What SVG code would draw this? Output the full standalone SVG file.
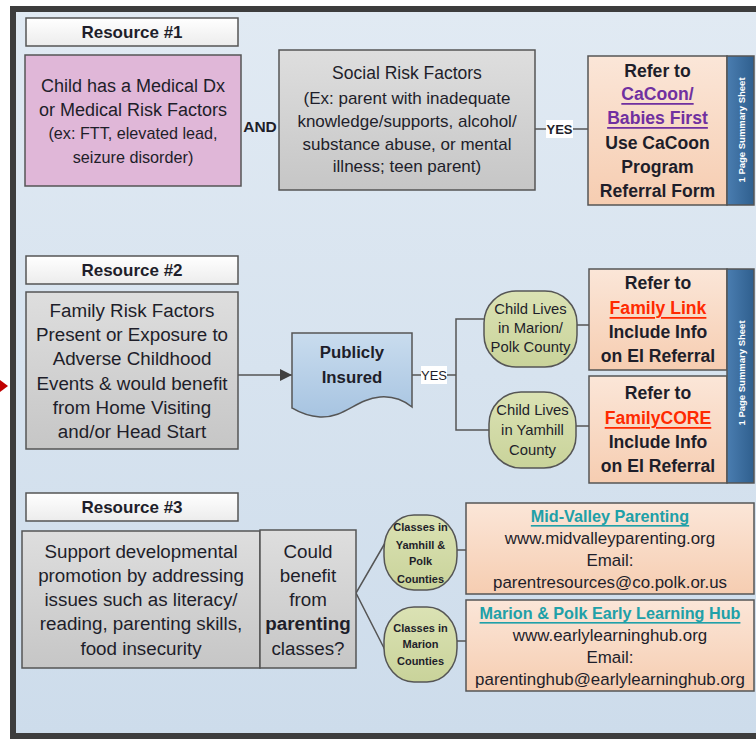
<svg xmlns="http://www.w3.org/2000/svg" width="756" height="740" viewBox="0 0 756 740">
<defs>
<linearGradient id="gFrame" x1="0" y1="0" x2="0" y2="1"><stop offset="0" stop-color="#e1eaf3"/><stop offset="1" stop-color="#cddceb"/></linearGradient>
<linearGradient id="gGray" x1="0" y1="0" x2="0" y2="1"><stop offset="0" stop-color="#dedede"/><stop offset="1" stop-color="#c6c6c6"/></linearGradient>
<linearGradient id="gHead" x1="0" y1="0" x2="0" y2="1"><stop offset="0" stop-color="#ffffff"/><stop offset="1" stop-color="#ececec"/></linearGradient>
<linearGradient id="gOrange" x1="0" y1="0" x2="0" y2="1"><stop offset="0" stop-color="#fbe6d8"/><stop offset="1" stop-color="#f6cdb1"/></linearGradient>
<linearGradient id="gGreen" x1="0" y1="0" x2="0" y2="1"><stop offset="0" stop-color="#dbe2b4"/><stop offset="1" stop-color="#c9d39a"/></linearGradient>
<linearGradient id="gDoc" x1="0" y1="0" x2="0" y2="1"><stop offset="0" stop-color="#c9dcee"/><stop offset="1" stop-color="#a7c4e1"/></linearGradient>
<linearGradient id="gBar" x1="0" y1="0" x2="1" y2="0"><stop offset="0" stop-color="#4a7db0"/><stop offset="1" stop-color="#2f5f8e"/></linearGradient>
<marker id="arr" viewBox="0 0 10 10" refX="10" refY="5" markerWidth="15" markerHeight="12" markerUnits="userSpaceOnUse" orient="auto"><path d="M0,0 L10,5 L0,10 Z" fill="#404040"/></marker>
</defs>
<style>
text{font-family:"Liberation Sans",Arial,sans-serif;fill:#1e1e2a;text-anchor:middle;dominant-baseline:central}
.box{stroke:#555;stroke-width:1.5}
.b{font-weight:bold}
.hdr{font-weight:bold;font-size:17px}
.ln{stroke:#555;stroke-width:1.5;fill:none}
.bar{fill:url(#gBar);stroke:#555;stroke-width:1.5}
.bartxt{fill:#fff;font-weight:bold;font-size:9.5px}
.lbl{fill:#fff}
.ref{font-weight:bold;font-size:17.6px}
.big{font-size:18.8px}
.soc{font-size:17px}
.oval{font-size:14.8px}
.cls{font-weight:bold;font-size:11px}
.info{font-size:16.9px}
.ttl{font-weight:bold;font-size:16.2px;fill:#20a0a8}
</style>

<g id="frame">
<rect x="13" y="9" width="760" height="727" fill="url(#gFrame)" stroke="#3d3d3d" stroke-width="6"/>
<polygon points="0,380 8,386 0,392" fill="#c00000"/>
</g>

<g id="connectors">
<line class="ln" x1="535" y1="129" x2="588" y2="129"/>
<rect class="lbl" x="546" y="120" width="27" height="18"/>
<text class="b" style="font-size:13px" x="559.5" y="129">YES</text>
<line class="ln" x1="238" y1="375" x2="292" y2="375" marker-end="url(#arr)"/>
<line class="ln" x1="412" y1="375" x2="456" y2="375"/>
<polyline class="ln" points="484,319 456,319 456,430 489,430"/>
<rect class="lbl" x="421" y="366" width="26" height="18"/>
<text style="font-size:13px" x="434" y="375">YES</text>
<line class="ln" x1="577" y1="325" x2="589" y2="325"/>
<line class="ln" x1="576" y1="426" x2="589" y2="426"/>
<polyline class="ln" points="385,543 356,593 385,650"/>
<line class="ln" x1="457" y1="550" x2="466" y2="550"/>
<line class="ln" x1="457" y1="641" x2="466" y2="641"/>
</g>

<g id="resource1">
<rect class="box" x="26" y="18" width="212" height="28" fill="url(#gHead)"/>
<text class="hdr" x="132" y="32">Resource #1</text>
</g>
<g id="medical">
<rect class="box" x="25" y="55" width="216" height="131" fill="#e0b7d8"/>
<text style="font-size:18px" x="133" y="86">Child has a Medical Dx</text>
<text style="font-size:18px" x="133" y="110">or Medical Risk Factors</text>
<text style="font-size:16.2px" x="133" y="133">(ex: FTT, elevated lead,</text>
<text style="font-size:16.2px" x="133" y="157">seizure disorder)</text>
</g>
<g id="and-label">
<text class="b" style="font-size:15.5px" x="260" y="126">AND</text>
</g>
<g id="social">
<rect class="box" x="279" y="50" width="256" height="140" fill="url(#gGray)"/>
<text style="font-size:17.5px" x="407" y="73">Social Risk Factors</text>
<text class="soc" x="407" y="98">(Ex: parent with inadequate</text>
<text class="soc" x="407" y="121">knowledge/supports, alcohol/</text>
<text class="soc" x="407" y="144">substance abuse, or mental</text>
<text class="soc" x="407" y="166">illness; teen parent)</text>
</g>
<g id="cacoon">
<rect class="box" x="588" y="56" width="139" height="149" fill="url(#gOrange)"/>
<text class="ref" x="657.5" y="71">Refer to</text>
<text class="ref" x="657.5" y="94" style="fill:#7030a0" text-decoration="underline">CaCoon/</text>
<text class="ref" x="657.5" y="118" style="fill:#7030a0" text-decoration="underline">Babies First</text>
<text class="ref" x="657.5" y="143">Use CaCoon</text>
<text class="ref" x="657.5" y="167">Program</text>
<text class="ref" x="657.5" y="191">Referral Form</text>
<rect class="bar" x="727" y="56" width="27" height="149"/>
<text class="bartxt" transform="translate(741,130) rotate(-90)">1 Page Summary Sheet</text>
</g>

<g id="resource2">
<rect class="box" x="26" y="256" width="212" height="28" fill="url(#gHead)"/>
<text class="hdr" x="132" y="270">Resource #2</text>
</g>
<g id="family">
<rect class="box" x="26" y="292" width="212" height="157" fill="url(#gGray)"/>
<text class="big" x="132" y="310">Family Risk Factors</text>
<text class="big" x="132" y="334">Present or Exposure to</text>
<text class="big" x="132" y="358">Adverse Childhood</text>
<text class="big" x="132" y="383">Events &amp; would benefit</text>
<text class="big" x="132" y="407">from Home Visiting</text>
<text class="big" x="132" y="431">and/or Head Start</text>
</g>
<g id="insured">
<path class="box" d="M292,333 L412,333 L412,407 C402,399 392,396 380,397 C356,399 345,418 320,417 C305,416 297,411 292,408 Z" fill="url(#gDoc)"/>
<text class="b" style="font-size:16.8px" x="352" y="352">Publicly</text>
<text class="b" style="font-size:16.8px" x="352" y="377">Insured</text>
</g>
<g id="marion-polk">
<rect class="box" x="484" y="291" width="93" height="76" rx="32" ry="32" fill="url(#gGreen)"/>
<text class="oval" x="530.5" y="309">Child Lives</text>
<text class="oval" x="530.5" y="328">in Marion/</text>
<text class="oval" x="530.5" y="347">Polk County</text>
</g>
<g id="yamhill">
<rect class="box" x="489" y="392" width="87" height="76" rx="32" ry="32" fill="url(#gGreen)"/>
<text class="oval" x="532.5" y="410">Child Lives</text>
<text class="oval" x="532.5" y="430">in Yamhill</text>
<text class="oval" x="532.5" y="450">County</text>
</g>
<g id="familylink">
<rect class="box" x="589" y="269" width="138" height="101" fill="url(#gOrange)"/>
<text class="ref" x="658" y="283">Refer to</text>
<text class="ref" x="658" y="308" style="fill:#ff2a00" text-decoration="underline">Family Link</text>
<text class="ref" x="658" y="332">Include Info</text>
<text class="ref" x="658" y="356">on EI Referral</text>
</g>
<g id="familycore">
<rect class="box" x="589" y="376" width="138" height="107" fill="url(#gOrange)"/>
<text class="ref" x="658" y="393">Refer to</text>
<text class="ref" x="658" y="418" style="fill:#ff2a00" text-decoration="underline">FamilyCORE</text>
<text class="ref" x="658" y="442">Include Info</text>
<text class="ref" x="658" y="466">on EI Referral</text>
</g>
<g id="summary2">
<rect class="bar" x="727" y="269" width="27" height="214"/>
<text class="bartxt" transform="translate(741,373) rotate(-90)">1 Page Summary Sheet</text>
</g>

<g id="resource3">
<rect class="box" x="26" y="493" width="212" height="28" fill="url(#gHead)"/>
<text class="hdr" x="132" y="507">Resource #3</text>
</g>
<g id="support">
<rect class="box" x="22" y="531" width="238" height="137" fill="url(#gGray)"/>
<text class="big" x="141" y="551">Support developmental</text>
<text class="big" x="141" y="575">promotion by addressing</text>
<text class="big" x="141" y="599">issues such as literacy/</text>
<text class="big" x="141" y="623">reading, parenting skills,</text>
<text class="big" x="141" y="648">food insecurity</text>
</g>
<g id="could-benefit">
<rect class="box" x="260" y="530" width="96" height="138" fill="url(#gGray)"/>
<text class="big" x="308" y="551">Could</text>
<text class="big" x="308" y="575">benefit</text>
<text class="big" x="308" y="599">from</text>
<text class="big b" x="308" y="623">parenting</text>
<text class="big" x="308" y="648">classes?</text>
</g>
<g id="classes-yamhill">
<rect class="box" x="384" y="515" width="73" height="75" rx="30" ry="34" fill="url(#gGreen)"/>
<text class="cls" x="420.5" y="527">Classes in</text>
<text class="cls" x="420.5" y="545">Yamhill &amp;</text>
<text class="cls" x="420.5" y="561">Polk</text>
<text class="cls" x="420.5" y="579">Counties</text>
</g>
<g id="classes-marion">
<rect class="box" x="384" y="607" width="73" height="75" rx="30" ry="34" fill="url(#gGreen)"/>
<text class="cls" x="420.5" y="628">Classes in</text>
<text class="cls" x="420.5" y="644">Marion</text>
<text class="cls" x="420.5" y="661">Counties</text>
</g>
<g id="midvalley">
<rect class="box" x="466" y="503" width="288" height="91" fill="url(#gOrange)"/>
<text class="ttl" x="610" y="516" text-decoration="underline">Mid-Valley Parenting</text>
<text class="info" x="610" y="538">www.midvalleyparenting.org</text>
<text class="info" x="610" y="560">Email:</text>
<text class="info" x="610" y="582">parentresources@co.polk.or.us</text>
</g>
<g id="learninghub">
<rect class="box" x="466" y="600" width="288" height="91" fill="url(#gOrange)"/>
<text class="ttl" x="610" y="613" text-decoration="underline">Marion &amp; Polk Early Learning Hub</text>
<text class="info" x="610" y="635">www.earlylearninghub.org</text>
<text class="info" x="610" y="657">Email:</text>
<text class="info" x="610" y="679">parentinghub@earlylearninghub.org</text>
</g>
</svg>
